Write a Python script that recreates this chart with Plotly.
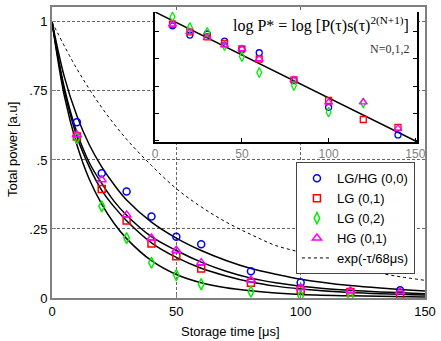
import plotly.graph_objects as go

# --- main panel: measured total power vs storage time ---
t_blue = [10, 20, 30, 40, 50, 60, 80, 100, 140]
p_blue = [0.637, 0.452, 0.386, 0.295, 0.222, 0.195, 0.097, 0.056, 0.028]
t_red = [10, 20, 30, 40, 50, 60, 80, 100, 120, 140]
p_red = [0.585, 0.395, 0.281, 0.197, 0.151, 0.107, 0.055, 0.029, 0.022, 0.011]
t_green = [10, 20, 30, 40, 50, 60, 80, 100, 120]
p_green = [0.579, 0.332, 0.217, 0.128, 0.083, 0.050, 0.023, 0.008, 0.005]
t_mag = [10, 20, 30, 40, 50, 60, 80, 100, 120, 140]
p_mag = [0.591, 0.428, 0.301, 0.217, 0.173, 0.128, 0.065, 0.037, 0.026, 0.023]

# fitted curves
t_fit = [0, 5, 10, 15, 20, 25, 30, 40, 50, 60, 70, 80, 90, 100, 120, 150]
fit_00 = [1, 0.80, 0.66, 0.555, 0.475, 0.41, 0.355, 0.275, 0.217, 0.172, 0.136, 0.107, 0.086, 0.068, 0.045, 0.025]
fit_hg01 = [1, 0.76, 0.60, 0.49, 0.415, 0.35, 0.30, 0.222, 0.172, 0.13, 0.097, 0.072, 0.055, 0.043, 0.028, 0.015]
fit_lg01 = [1, 0.75, 0.585, 0.475, 0.39, 0.33, 0.28, 0.20, 0.147, 0.108, 0.08, 0.058, 0.043, 0.033, 0.02, 0.011]
fit_lg02 = [1, 0.73, 0.555, 0.43, 0.34, 0.27, 0.215, 0.135, 0.085, 0.055, 0.037, 0.026, 0.018, 0.013, 0.008, 0.004]

t_exp = [0, 10, 20, 30, 40, 50, 60, 70, 80, 90, 100, 110, 120, 130, 140, 150]
p_exp = [1, 0.83, 0.69, 0.575, 0.48, 0.396, 0.33, 0.275, 0.23, 0.19, 0.165, 0.135, 0.112, 0.093, 0.077, 0.064]

# --- inset: log P* vs storage time ---
ti_blue = [10, 20, 30, 40, 50, 60, 80, 100, 140]
li_blue = [-0.78, -1.12, -1.08, -1.34, -1.65, -1.77, -2.80, -3.78, -4.80]
ti_red = [10, 20, 30, 40, 50, 60, 80, 100, 120, 140]
li_red = [-0.72, -1.0, -1.18, -1.43, -1.63, -2.0, -2.77, -3.53, -4.23, -4.52]
ti_green = [10, 20, 30, 40, 50, 60, 80, 100, 120]
li_green = [-0.45, -0.84, -1.02, -1.51, -1.91, -2.50, -2.98, -3.96, -3.62]
ti_mag = [10, 20, 30, 40, 50, 60, 80, 100, 120, 140]
li_mag = [-0.72, -1.0, -1.21, -1.49, -1.63, -2.0, -2.77, -3.6, -3.59, -4.56]
ti_line = [0, 151]
li_line = [-0.27, -5.05]

series = [
  ("LG/HG (0,0)", "#0000ff", "circle-open", 7, t_blue, p_blue, ti_blue, li_blue),
  ("LG (0,1)", "#ff0000", "square-open", 7, t_red, p_red, ti_red, li_red),
  ("LG (0,2)", "#00ee00", "diamond-tall-open", 8, t_green, p_green, ti_green, li_green),
  ("HG (0,1)", "#ff00ff", "triangle-up-open", 8, t_mag, p_mag, ti_mag, li_mag),
]

fig = go.Figure()

for fit in [fit_00, fit_hg01, fit_lg01, fit_lg02]:
  fig.add_trace(go.Scatter(x=t_fit, y=fit, mode="lines", line=dict(color="black", width=1.5, shape="spline"),
                           showlegend=False, hoverinfo="skip"))

for name, col, sym, sz, tx, py, _, _ in series:
  fig.add_trace(go.Scatter(x=tx, y=py, mode="markers", name=name,
                           marker=dict(symbol=sym, size=sz, color=col, line=dict(width=1.5, color=col))))

fig.add_trace(go.Scatter(x=t_exp, y=p_exp, mode="lines", name="exp(-τ/68μs)",
                         line=dict(color="black", width=1, dash="dot", shape="spline")))

# inset traces
fig.add_trace(go.Scatter(x=ti_line, y=li_line, mode="lines", line=dict(color="black", width=1.5),
                         xaxis="x2", yaxis="y2", showlegend=False))
for name, col, sym, sz, _, _, tx, ly in series:
  fig.add_trace(go.Scatter(x=tx, y=ly, mode="markers", xaxis="x2", yaxis="y2", showlegend=False,
                           marker=dict(symbol=sym, size=sz - 1, color=col, line=dict(width=1.3, color=col))))

axis_gray = "#808080"
grid_style = dict(showgrid=True, gridcolor="#666666", gridwidth=1, griddash="3px,2px")

fig.update_layout(
  width=441, height=341, autosize=False,
  margin=dict(l=52, r=13, t=5, b=43),
  plot_bgcolor="white", paper_bgcolor="white",
  font=dict(family="Liberation Sans, Arial", size=12, color="black"),
  xaxis=dict(range=[0, 150], tickvals=[0, 50, 100, 150], zeroline=False,
             showline=True, linecolor=axis_gray, linewidth=2, mirror=True,
             ticks="inside", ticklen=4, tickcolor=axis_gray, tickfont=dict(size=13), **grid_style),
  yaxis=dict(range=[0, 1.054], tickvals=[0, 0.25, 0.5, 0.75, 1], ticktext=["0", ".25", ".5", ".75", "1"],
             zeroline=False, showline=True, linecolor=axis_gray, linewidth=2, mirror=True,
             ticks="inside", ticklen=4, tickcolor=axis_gray, tickfont=dict(size=13), **grid_style),
  xaxis2=dict(domain=[0.2766, 0.9787], anchor="y2", range=[0, 151], tickvals=[0, 50, 100, 150],
              showgrid=False, zeroline=False, showline=True, linecolor="black", linewidth=1.5,
              ticks="inside", ticklen=4, tickcolor="black", tickfont=dict(size=12, color=axis_gray)),
  yaxis2=dict(domain=[0.536, 0.983], anchor="x2", range=[-5.06, -0.267], tickvals=[-5, -4, -3, -2, -1],
              showticklabels=False, showgrid=False, zeroline=False, showline=True, linecolor="black",
              linewidth=1.5, mirror="ticks", ticks="inside", ticklen=4, tickcolor="black"),
  legend=dict(x=0.654, y=0.466, xanchor="left", yanchor="top", bgcolor="white",
              bordercolor="#444444", borderwidth=1, font=dict(size=13)),
  shapes=[dict(type="rect", xref="paper", yref="paper", x0=0.261, x1=1.0, y0=0.4676, y1=1.0,
               fillcolor="white", line=dict(width=0), layer="between")],
  annotations=[
    dict(text="Storage time [μs]", xref="paper", yref="paper", x=0.479, y=-0.116,
         showarrow=False, font=dict(size=13), xanchor="center", yanchor="middle"),
    dict(text="Total power [a.u]", xref="paper", yref="paper", x=-0.104, y=0.509, textangle=-90,
         showarrow=False, font=dict(size=13), xanchor="center", yanchor="middle"),
    dict(text="log P* = log [P(τ)s(τ)<sup>2(N+1)</sup>]", xref="paper", yref="paper", x=0.72, y=0.94,
         showarrow=False, font=dict(family="Liberation Serif, Times New Roman", size=16),
         xanchor="center", yanchor="middle"),
    dict(text="N=0,1,2", xref="paper", yref="paper", x=0.905, y=0.857,
         showarrow=False, font=dict(family="Liberation Serif, Times New Roman", size=12, color="#333333"),
         xanchor="center", yanchor="middle"),
  ],
)

fig.write_html("out.html", config={"displayModeBar": False},
               post_script="document.body.style.margin='0';")
